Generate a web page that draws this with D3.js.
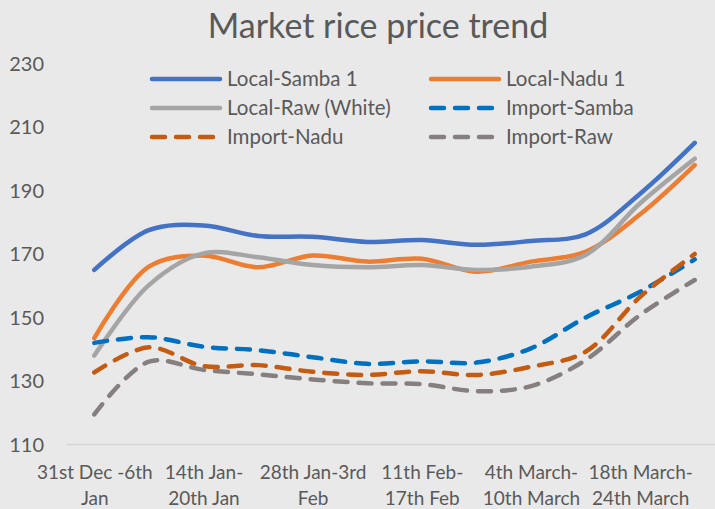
<!DOCTYPE html>
<html>
<head>
<meta charset="utf-8">
<script src="https://cdn.jsdelivr.net/npm/d3@7"></script>
<style>
  body { margin: 0; background: #e9e9e9; }
  text { font-family: Lato, "Open Sans", sans-serif; fill: #595959; }
</style>
</head>
<body>
<div id="chart"></div>
<script>
// weekly categories (only every second one is labelled on the axis)
const weeks = [
  "31st Dec -6th Jan", "7th Jan-13th Jan", "14th Jan-20th Jan", "21st Jan-27th Jan",
  "28th Jan-3rd Feb", "4th Feb-10th Feb", "11th Feb-17th Feb", "18th Feb-24th Feb",
  "4th March-10th March", "11th March-17th March", "18th March-24th March", "25th March-31st March"
];
// wrapped text of the labelled ticks
const tickLines = [
  ["31st Dec -6th", "Jan"], null, ["14th Jan-", "20th Jan"], null,
  ["28th Jan-3rd", "Feb"], null, ["11th Feb-", "17th Feb"], null,
  ["4th March-", "10th March"], null, ["18th March-", "24th March"], null
];
const yTicks = [110, 130, 150, 170, 190, 210, 230];

const localSamba = [165, 177.5, 179, 175.7, 175.4, 173.8, 174.4, 172.9, 174.1, 176.2, 189, 205];
const localNadu  = [143.5, 166, 169.5, 165.8, 169.5, 167.6, 168.5, 164.4, 167.6, 170.7, 182.5, 198];
const localRaw   = [138, 160.2, 170.2, 169, 166.5, 165.8, 166.5, 165, 166, 169.7, 186, 200];
const importSamba = [142, 143.8, 140.8, 139.7, 137.5, 135.4, 136.2, 135.8, 140.3, 150, 158.1, 168.3];
const importNadu  = [132.7, 140.6, 134.7, 135, 132.9, 131.9, 133.1, 131.9, 134.5, 139.2, 156.5, 170];
const importRaw   = [119.5, 136.1, 133.5, 132.1, 130.5, 129.3, 129, 126.8, 128.4, 136.6, 150.8, 161.8];

const series = [
  {name: "Local-Samba 1", values: localSamba, color: "#4472C4", dash: null},
  {name: "Local-Nadu 1", values: localNadu, color: "#ED7D31", dash: null},
  {name: "Local-Raw (White)", values: localRaw, color: "#A5A5A5", dash: null},
  {name: "Import-Samba", values: importSamba, color: "#0070C0", dash: "13,11"},
  {name: "Import-Nadu", values: importNadu, color: "#C55A11", dash: "13,11"},
  {name: "Import-Raw", values: importRaw, color: "#857F7F", dash: "13,11"}
];

const width = 715, height = 509;
const margin = {top: 63.5, right: -7, bottom: 64.5, left: 67};

const svg = d3.select("#chart").append("svg")
  .attr("width", width)
  .attr("height", height);

svg.append("rect").attr("width", width).attr("height", height).attr("fill", "#e9e9e9");

const x = d3.scalePoint()
  .domain(weeks)
  .range([margin.left, width - margin.right])
  .padding(0.5);

const y = d3.scaleLinear()
  .domain([110, 230])
  .range([height - margin.bottom, margin.top]);

// title
svg.append("text")
  .attr("x", 378)
  .attr("y", 38)
  .attr("text-anchor", "middle")
  .style("font-size", "34px")
  .text("Market rice price trend");

// y axis labels
svg.append("g")
  .selectAll("text")
  .data(yTicks)
  .join("text")
    .attr("x", 44)
    .attr("y", d => y(d))
    .attr("dy", "0.35em")
    .attr("text-anchor", "end")
    .style("font-size", "20px")
    .text(d => d);

// baseline
svg.append("line")
  .attr("x1", margin.left)
  .attr("x2", width)
  .attr("y1", y(110))
  .attr("y2", y(110))
  .attr("stroke", "#d6d6d6")
  .attr("stroke-width", 1.5);

// x labels
const xl = svg.append("g")
  .selectAll("text")
  .data(weeks.map((w, i) => ({w, lines: tickLines[i]})).filter(d => d.lines))
  .join("text")
    .attr("text-anchor", "middle")
    .style("font-size", "19px");
xl.selectAll("tspan")
  .data(d => d.lines.map(l => ({l, w: d.w})))
  .join("tspan")
    .attr("x", d => x(d.w) + 0.5)
    .attr("y", (d, i) => 479 + i * 26)
    .text(d => d.l);

// lines
const line = d3.line()
  .x((d, i) => x(weeks[i]))
  .y(d => y(d))
  .curve(d3.curveCatmullRom.alpha(0.5));

svg.append("g")
  .selectAll("path")
  .data(series)
  .join("path")
    .attr("d", d => line(d.values))
    .attr("fill", "none")
    .attr("stroke", d => d.color)
    .attr("stroke-width", 4.5)
    .attr("stroke-linecap", "round")
    .attr("stroke-linejoin", "round")
    .attr("stroke-dasharray", d => d.dash);

// legend
const legend = svg.append("g")
  .selectAll("g")
  .data(series)
  .join("g")
    .attr("transform", (d, i) => `translate(${i % 2 ? 431 : 152},${79 + Math.floor(i / 2) * 29})`);

legend.append("line")
  .attr("x1", 0)
  .attr("x2", 68)
  .attr("stroke", d => d.color)
  .attr("stroke-width", 4.5)
  .attr("stroke-linecap", "round")
  .attr("stroke-dasharray", d => d.dash ? "13,11" : null);

legend.append("text")
  .attr("x", 75)
  .attr("dy", "0.35em")
  .style("font-size", "20.5px")
  .text(d => d.name);
</script>
</body>
</html>
